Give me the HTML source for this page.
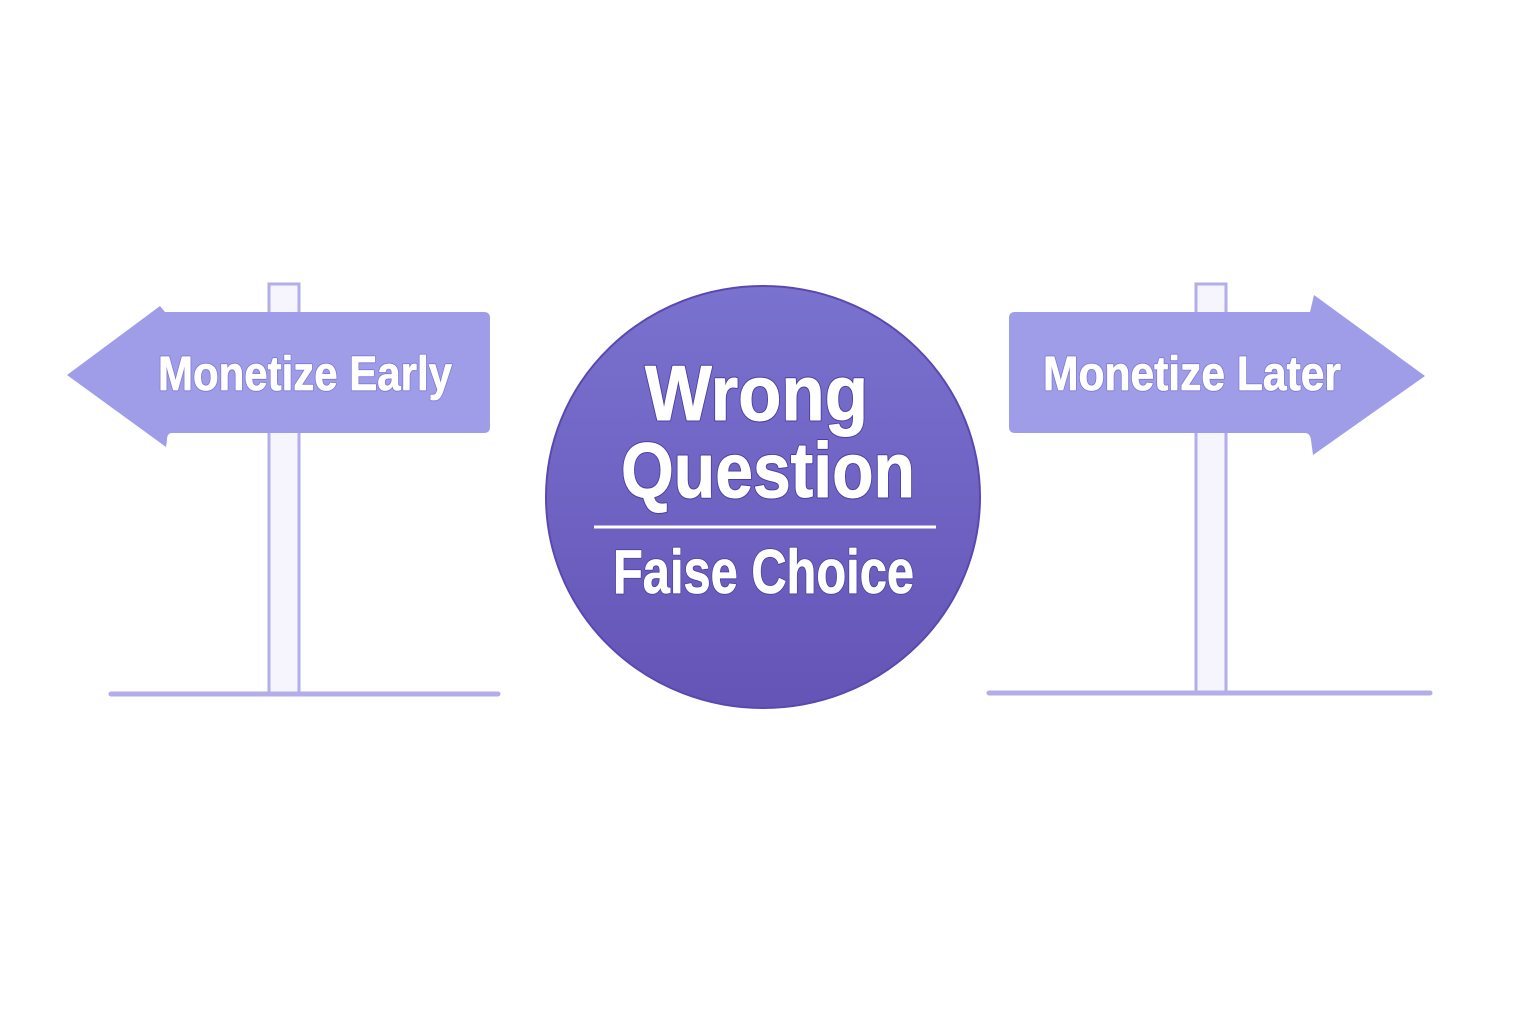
<!DOCTYPE html>
<html><head><meta charset="utf-8"><style>html,body{margin:0;padding:0;background:#fff}svg{display:block}text{font-family:"Liberation Sans",sans-serif;font-weight:700}</style></head>
<body>
<svg width="1536" height="1024" viewBox="0 0 1536 1024" xmlns="http://www.w3.org/2000/svg">
<defs>
<linearGradient id="g" x1="0" y1="0" x2="0" y2="1">
<stop offset="0" stop-color="#7a72cf"/><stop offset="1" stop-color="#6454b6"/>
</linearGradient>
</defs>
<rect width="1536" height="1024" fill="#fff"/>
<rect x="269" y="284" width="30" height="410" fill="#f6f5fd" stroke="#b3aee8" stroke-width="3"/>
<line x1="111" y1="694" x2="498" y2="694" stroke="#b3aee8" stroke-width="5" stroke-linecap="round"/>
<path d="M67,375 L160,306 L165,312 L484,312 Q490,312 490,318 L490,427 Q490,433 484,433 L172,433 Q167,433 167,440 L166,447 Z" fill="#9f9de8"/>
<text x="158" y="390" font-size="48" fill="#7d78d6" stroke="#7d78d6" stroke-width="2.5" stroke-linejoin="round" textLength="294" lengthAdjust="spacingAndGlyphs">Monetize Early</text>
<text x="158" y="390" font-size="48" fill="#fff" stroke="#fff" stroke-width="0.8" stroke-linejoin="round" textLength="294" lengthAdjust="spacingAndGlyphs">Monetize Early</text>
<rect x="1196" y="284" width="30" height="410" fill="#f6f5fd" stroke="#b3aee8" stroke-width="3"/>
<line x1="989" y1="693" x2="1430" y2="693" stroke="#b3aee8" stroke-width="5" stroke-linecap="round"/>
<path d="M1425,376 L1314,295 L1310,312 L1015,312 Q1009,312 1009,318 L1009,427 Q1009,433 1015,433 L1305,433 Q1310,433 1311,440 L1313,455 Z" fill="#9f9de8"/>
<text x="1043" y="390" font-size="48" fill="#7d78d6" stroke="#7d78d6" stroke-width="2.5" stroke-linejoin="round" textLength="298" lengthAdjust="spacingAndGlyphs">Monetize Later</text>
<text x="1043" y="390" font-size="48" fill="#fff" stroke="#fff" stroke-width="0.8" stroke-linejoin="round" textLength="298" lengthAdjust="spacingAndGlyphs">Monetize Later</text>
<ellipse cx="763" cy="497" rx="217" ry="211" fill="url(#g)" stroke="#5a48b0" stroke-width="2"/>
<text x="645" y="420" font-size="78" fill="#4c3ea0" stroke="#4c3ea0" stroke-width="3" stroke-linejoin="round" textLength="223" lengthAdjust="spacingAndGlyphs">Wrong</text>
<text x="645" y="420" font-size="78" fill="#fff" stroke="#fff" stroke-width="1" stroke-linejoin="round" textLength="223" lengthAdjust="spacingAndGlyphs">Wrong</text>
<text x="621" y="497" font-size="78" fill="#4c3ea0" stroke="#4c3ea0" stroke-width="3" stroke-linejoin="round" textLength="294" lengthAdjust="spacingAndGlyphs">Question</text>
<text x="621" y="497" font-size="78" fill="#fff" stroke="#fff" stroke-width="1" stroke-linejoin="round" textLength="294" lengthAdjust="spacingAndGlyphs">Question</text>
<line x1="594" y1="527" x2="936" y2="527" stroke="#fff" stroke-width="3"/>
<text x="613" y="593" font-size="62" fill="#4c3ea0" stroke="#4c3ea0" stroke-width="2.5" stroke-linejoin="round" textLength="301" lengthAdjust="spacingAndGlyphs">Faise Choice</text>
<text x="613" y="593" font-size="62" fill="#fff" stroke="#fff" stroke-width="0.8" stroke-linejoin="round" textLength="301" lengthAdjust="spacingAndGlyphs">Faise Choice</text>
</svg>
</body></html>
